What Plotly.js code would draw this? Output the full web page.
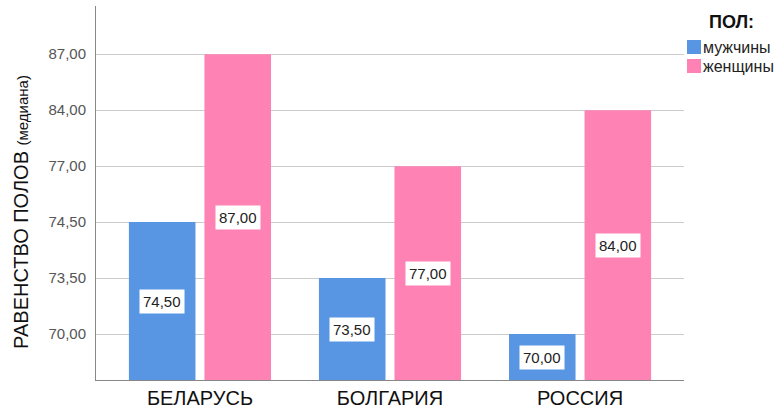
<!DOCTYPE html>
<html>
<head>
<meta charset="utf-8">
<script src="https://cdn.plot.ly/plotly-3.0.1.min.js"></script>
<style>html,body{margin:0;padding:0;background:#fff;}#chart{width:777px;height:412px;}</style>
</head>
<body>
<div id="chart"></div>
<script>
const categories = ['БЕЛАРУСЬ', 'БОЛГАРИЯ', 'РОССИЯ'];
const seriesNames = ['мужчины', 'женщины'];
const men = [74.50, 73.50, 70.00];
const women = [87.00, 77.00, 84.00];
const yTickValues = [70.00, 73.50, 74.50, 77.00, 84.00, 87.00];
const colors = ['#5896E3', '#FF82B4'];

const FONT = 'Liberation Sans, Arial, sans-serif';
const fmt = v => v.toFixed(2).replace('.', ',');
const baseLine = -0.82;
const rank = v => yTickValues.indexOf(v);

const bargap = 0.205;
const groupW = 1 - bargap;
const offsets = [-groupW / 4, groupW / 4];

const series = [men, women];
const traces = series.map((vals, i) => ({
  type: 'bar',
  name: seriesNames[i],
  x: categories,
  y: vals.map(v => rank(v) - baseLine),
  base: vals.map(() => baseLine),
  marker: {color: colors[i], line: {width: 0}},
  showlegend: false,
  hoverinfo: 'skip'
}));

const annotations = [];
series.forEach((vals, i) => {
  vals.forEach((v, j) => {
    annotations.push({
      x: j + offsets[i], y: (rank(v) + baseLine) / 2,
      xref: 'x', yref: 'y',
      text: fmt(v), showarrow: false,
      bgcolor: '#ffffff', borderpad: 3,
      font: {family: FONT, size: 15, color: '#222'}
    });
  });
});

const px = X => (X - 96) / 588;
const py = Y => (380 - Y) / 374;

// y-axis title
annotations.push({
  xref: 'paper', yref: 'paper',
  x: px(21), y: py(212),
  xanchor: 'center', yanchor: 'middle',
  textangle: -90, showarrow: false,
  text: 'РАВЕНСТВО ПОЛОВ <span style="font-size:15px">(медиана)</span>',
  font: {family: FONT, size: 20, color: '#111'}
});

// legend (manual)
annotations.push({
  xref: 'paper', yref: 'paper', x: px(731), y: py(22),
  xanchor: 'center', yanchor: 'middle', showarrow: false,
  text: '<b>ПОЛ:</b>',
  font: {family: FONT, size: 18, color: '#111'}
});
const shapes = [];
seriesNames.forEach((n, i) => {
  const cy = 47 + i * 19;
  shapes.push({
    type: 'rect', xref: 'paper', yref: 'paper',
    x0: px(687), x1: px(701), y0: py(cy - 7), y1: py(cy + 7),
    fillcolor: colors[i], line: {width: 0}
  });
  annotations.push({
    xref: 'paper', yref: 'paper', x: px(701), y: py(cy),
    xanchor: 'left', yanchor: 'middle', showarrow: false,
    text: n,
    font: {family: FONT, size: 16, color: '#222'}
  });
});

const layout = {
  width: 777, height: 412,
  margin: {l: 96, r: 93, t: 6, b: 32, pad: 0},
  paper_bgcolor: '#fff', plot_bgcolor: '#fff',
  barmode: 'group', bargap: bargap, bargroupgap: 0.119,
  showlegend: false,
  xaxis: {
    type: 'category', range: [-0.547, 2.547],
    showline: true, linecolor: '#888', linewidth: 1,
    showgrid: false, ticks: '', zeroline: false,
    tickfont: {family: FONT, size: 20, color: '#111'},
    fixedrange: true
  },
  yaxis: {
    range: [baseLine, 5.86],
    tickvals: yTickValues.map((v, i) => i),
    ticktext: yTickValues.map(fmt),
    showline: true, linecolor: '#888', linewidth: 1,
    showgrid: true, gridcolor: '#cccccc', gridwidth: 1,
    zeroline: false, ticks: '',
    ticklabelstandoff: 6,
    tickfont: {family: FONT, size: 15, color: '#555'},
    fixedrange: true
  },
  annotations: annotations,
  shapes: shapes
};

Plotly.newPlot('chart', traces, layout, {displayModeBar: false, staticPlot: true});
</script>
</body>
</html>
